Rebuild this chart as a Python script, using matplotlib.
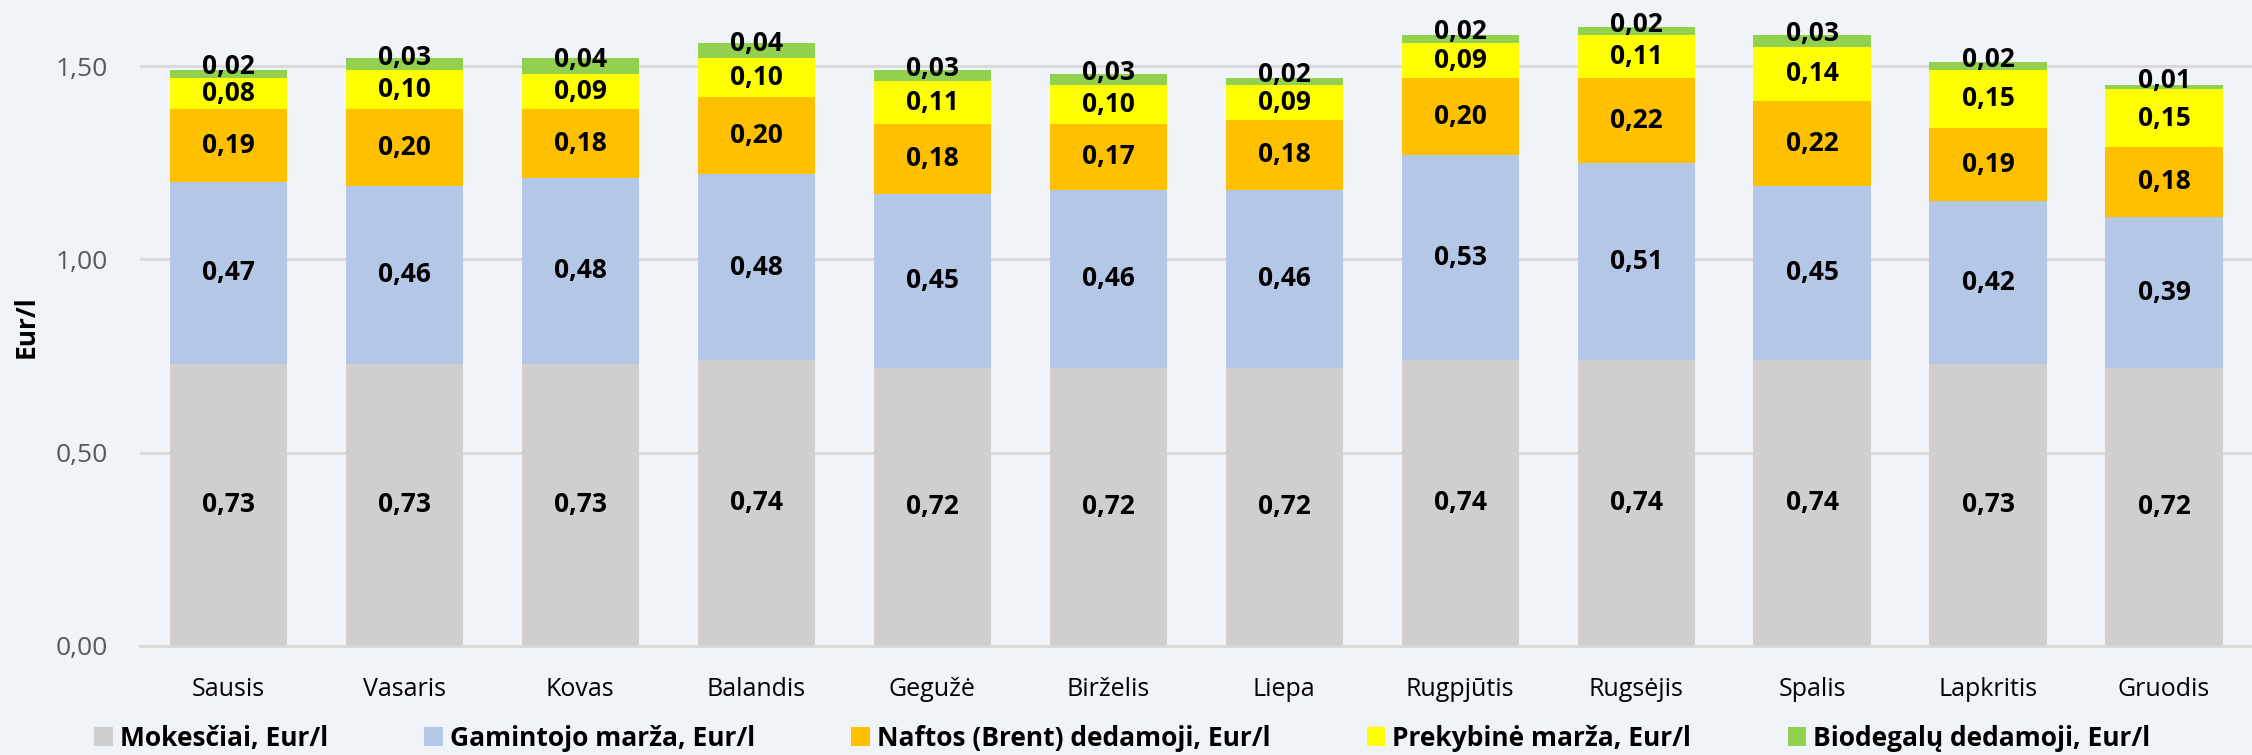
import numpy as np
import matplotlib.pyplot as plt
from matplotlib.patches import Patch

plt.rcParams['font.family'] = ['Open Sans', 'DejaVu Sans']

#---------Data-----------
months = ['Sausis', 'Vasaris', 'Kovas', 'Balandis', 'Gegužė', 'Birželis',
          'Liepa', 'Rugpjūtis', 'Rugsėjis', 'Spalis', 'Lapkritis', 'Gruodis']

mokesciai = [0.73, 0.73, 0.73, 0.74, 0.72, 0.72, 0.72, 0.74, 0.74, 0.74, 0.73, 0.72]
gamintojo = [0.47, 0.46, 0.48, 0.48, 0.45, 0.46, 0.46, 0.53, 0.51, 0.45, 0.42, 0.39]
naftos = [0.19, 0.20, 0.18, 0.20, 0.18, 0.17, 0.18, 0.20, 0.22, 0.22, 0.19, 0.18]
prekybine = [0.08, 0.10, 0.09, 0.10, 0.11, 0.10, 0.09, 0.09, 0.11, 0.14, 0.15, 0.15]
biodegalu = [0.02, 0.03, 0.04, 0.04, 0.03, 0.03, 0.02, 0.02, 0.02, 0.03, 0.02, 0.01]

series = [mokesciai, gamintojo, naftos, prekybine, biodegalu]
names = ['Mokesčiai, Eur/l', 'Gamintojo marža, Eur/l', 'Naftos (Brent) dedamoji, Eur/l',
         'Prekybinė marža, Eur/l', 'Biodegalų dedamoji, Eur/l']
colors = ['#D0CECE', '#B4C7E7', '#FFC000', '#FFFF00', '#92D050']

bg = '#F0F3F7'

#---------Plot-----------
fig = plt.figure(figsize=(22.52, 7.55), dpi=100, facecolor=bg)
ax = fig.add_axes([0.0622, 0.1444, 0.9378, 0.845])
ax.set_facecolor(bg)

x = np.arange(len(months))
bottom = np.zeros(len(months))
for k, (vals, col) in enumerate(zip(series, colors)):
    vals = np.array(vals)
    ax.bar(x, vals, 0.665, bottom=bottom, color=col, zorder=2)
    # top (thin) segment labels sit a little higher, as in the original
    dy = 5 if k == len(series) - 1 else 0
    for xi, b, v in zip(x, bottom, vals):
        ax.annotate(f'{v:.2f}'.replace('.', ','), (xi, b + v / 2), xytext=(0, dy),
                    textcoords='offset points', ha='center', va='center',
                    fontsize=19, fontweight='bold', color='black', zorder=3)
    bottom += vals

ax.set_xlim(-0.5, len(months) - 0.5)
ax.set_ylim(0, 1.65)
ax.set_yticks([0, 0.5, 1.0, 1.5])
ax.set_yticklabels(['0,00', '0,50', '1,00', '1,50'])
ax.set_xticks(x)
ax.set_xticklabels(months)
ax.yaxis.grid(True, color='#D9D9D9', linewidth=2, zorder=0)
ax.tick_params(axis='y', length=0, pad=23, labelsize=19, labelcolor='#595959')
ax.tick_params(axis='x', length=0, pad=22, labelsize=18, labelcolor='black')
for s in ['top', 'right', 'left']:
    ax.spines[s].set_visible(False)
ax.spines['bottom'].set_color('#D9D9D9')
ax.spines['bottom'].set_linewidth(2)
ax.set_ylabel('Eur/l', fontsize=19, fontweight='bold', labelpad=12)

handles = [Patch(facecolor=c, edgecolor='none') for c in colors]
fig.legend(handles, names, loc='center left', bbox_to_anchor=(0.036, 0.022), ncol=5,
           frameon=False, prop={'size': 19, 'weight': 'bold'}, borderpad=0,
           handlelength=0.7, handleheight=0.75, handletextpad=0.27, columnspacing=3.65)

fig.savefig('out.png', dpi=100, facecolor=bg)
